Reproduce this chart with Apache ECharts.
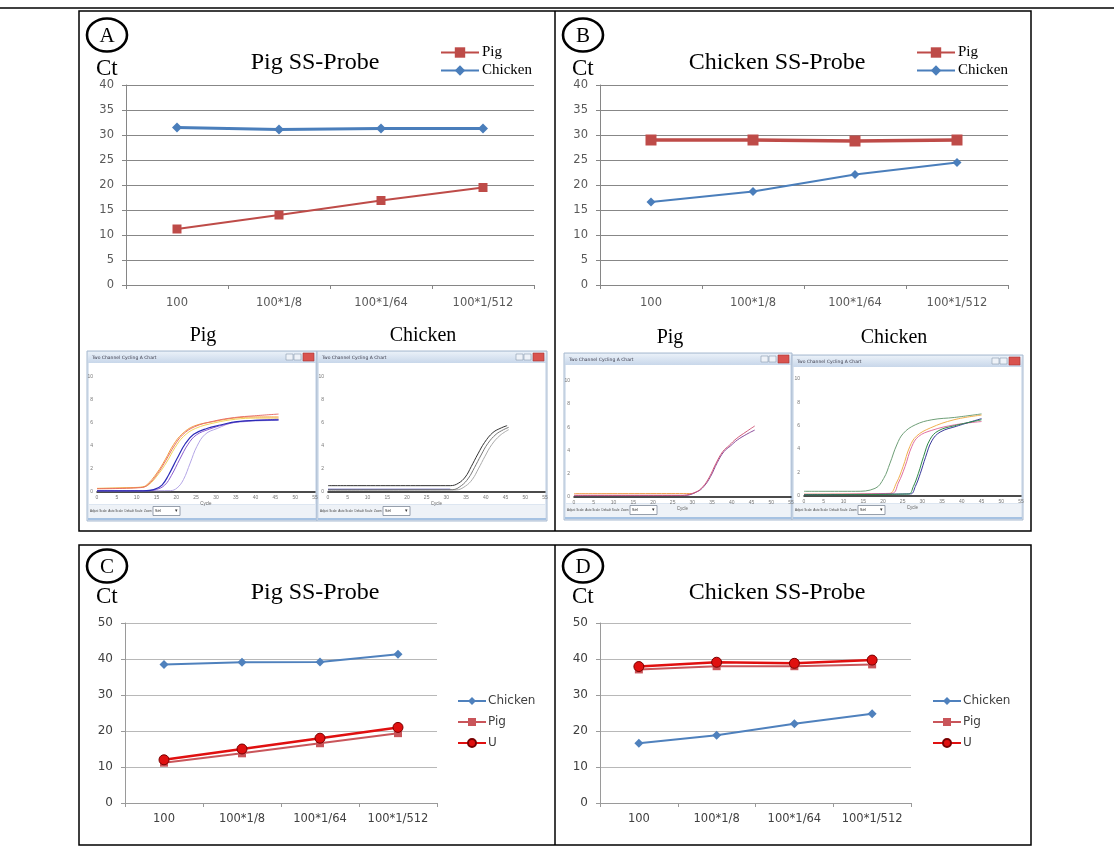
<!DOCTYPE html>
<html><head><meta charset="utf-8">
<script src="https://cdn.jsdelivr.net/npm/echarts@6/dist/echarts.min.js"></script>
<style>html,body{margin:0;padding:0;background:#fff}#c{width:1114px;height:858px}</style>
</head><body><div id="c"></div>
<script>
// ---------- data ----------
const cats = ['100', '100*1/8', '100*1/64', '100*1/512'];
const aPig = [11.2, 14.0, 16.9, 19.5];
const aChicken = [31.5, 31.1, 31.3, 31.3];
const bPig = [29.0, 29.0, 28.8, 29.0];
const bChicken = [16.6, 18.7, 22.1, 24.5];
const cChicken = [38.5, 39.1, 39.2, 41.3];
const cPig = [11.2, 13.8, 16.6, 19.4];
const cU = [12.0, 15.0, 18.0, 21.0];
const dChicken = [16.6, 18.8, 22.0, 24.8];
const dPig = [37.1, 38.0, 38.0, 38.5];
const dU = [37.9, 39.1, 38.8, 39.7];

// amplification curves: [cycle, fluorescence]
const aPigOrange = [[0,0.3],[6,0.35],[11,0.4],[12.6,0.63],[15.1,1.64],[17.2,2.8],[19.3,4.1],[21.4,5.0],[24.4,5.7],[29.4,6.1],[34.5,6.4],[39.5,6.5],[45.8,6.5]];
const aPigRed = [[0,0.28],[11,0.38],[12.8,0.6],[15.3,1.6],[17.4,2.75],[19.5,4.0],[21.6,4.95],[24.6,5.65],[29.6,6.15],[34.7,6.45],[39.7,6.6],[45.8,6.75]];
const aPigYellow = [[0,0.32],[11,0.42],[13,0.62],[15.5,1.55],[17.6,2.6],[19.7,3.85],[21.8,4.8],[24.8,5.5],[29.8,6.0],[34.9,6.3],[40,6.4],[45.8,6.4]];
const aPigBlue = [[0,0.1],[11.8,0.1],[14.3,0.2],[16.4,0.6],[18.1,1.5],[20.2,2.9],[22.3,4.2],[24.4,5.0],[27.7,5.5],[31.1,5.8],[35.3,6.1],[45.8,6.25]];
const aPigPurple = [[0,0.12],[12.5,0.12],[15,0.22],[17.1,0.6],[18.8,1.45],[20.9,2.85],[23,4.15],[25.1,4.95],[28.4,5.45],[31.8,5.8],[36,6.1],[45.8,6.3]];
const aPigLavender = [[0,0.1],[18.5,0.12],[20.2,0.35],[21.8,1.07],[23.5,2.5],[25.2,3.95],[27.3,5.0],[30.3,5.5],[34.5,6.0],[45.8,6.2]];
const aChkDark = [[0,0.55],[31,0.55],[33,0.75],[34.8,1.3],[36.3,2.2],[38,3.3],[39.7,4.3],[41.8,5.15],[43.9,5.55],[45.4,5.75]];
const aChkGray = [[0,0.2],[31.5,0.2],[33.8,0.55],[35.6,1.2],[37.1,2.1],[38.8,3.2],[40.5,4.2],[42.6,5.0],[44.5,5.4],[45.8,5.6]];
const aChkLight = [[0,0.15],[32.5,0.18],[34.8,0.5],[36.6,1.1],[38.1,2.0],[39.8,3.1],[41.5,4.1],[43.6,4.9],[45.8,5.4]];
const aChkBase = [[0,0.22],[31,0.22]];
const bPigBase = [[0,0.29],[30.5,0.3]];
const bPigPink = [[0,0.15],[27.5,0.15],[30.9,0.43],[32.6,0.86],[34.3,1.7],[36,2.9],[37.7,3.9],[39.4,4.45],[41.1,5.0],[43.6,5.6],[45.8,6.1]];
const bPigPurple = [[0,0.12],[28,0.13],[31.2,0.45],[32.9,0.9],[34.6,1.75],[36.3,2.95],[38,3.9],[39.7,4.4],[41.4,4.9],[43.8,5.4],[45.8,5.75]];
const bChkLight = [[0,0.4],[13,0.4],[18,0.65],[20.2,1.5],[21.8,2.8],[23.5,4.35],[25.2,5.35],[28.2,6.07],[32.4,6.5],[38.2,6.7],[45,7.0]];
const bChkOrange = [[0,0.15],[21.5,0.2],[23.4,1.1],[25.1,2.5],[26.8,4.2],[28.5,5.1],[32,5.8],[38,6.5],[45,6.9]];
const bChkPink = [[0,0.15],[22.3,0.23],[23.9,1.1],[25.6,2.5],[27.3,4.2],[29,5.07],[32.4,5.6],[38.2,6.07],[45,6.35]];
const bChkGreen = [[0,0.1],[26.5,0.17],[27.7,0.8],[29,1.94],[30.3,3.36],[31.9,4.8],[34,5.55],[38.2,6.0],[45,6.5]];
const bChkBlue = [[0,0.12],[27,0.18],[28.2,0.8],[29.5,1.94],[30.8,3.3],[32.4,4.7],[34.5,5.45],[38.7,5.95],[45,6.6]];

// ---------- styles ----------
const SERIF = '"Liberation Serif", "Times New Roman", serif';
const SANS = '"DejaVu Sans", sans-serif';
const RED = '#BE4B48', BLUE = '#4A7EBB', URED = '#E01010';

const chart = echarts.init(document.getElementById('c'), null, {renderer: 'canvas'});

function mainX(gi, light) {
  const c = light ? '#9a9a9a' : '#868686';
  return {type: 'category', gridIndex: gi, data: cats, boundaryGap: true,
    axisLine: {lineStyle: {color: c}}, axisTick: {show: true, length: 4, interval: 0, lineStyle: {color: c}},
    axisLabel: {interval: 0, color: light ? '#404040' : '#595959', fontFamily: SANS, fontSize: 11.5, margin: light ? 10 : 12}};
}
function mainY(gi, max, step, light) {
  const c = light ? '#9a9a9a' : '#868686';
  return {type: 'value', gridIndex: gi, min: 0, max: max, interval: step,
    axisLine: {show: true, lineStyle: {color: c}}, axisTick: {show: true, length: 4, lineStyle: {color: c}},
    splitLine: {lineStyle: {color: light ? '#b8b8b8' : '#878787'}},
    axisLabel: {color: light ? '#404040' : '#595959', fontFamily: SANS, fontSize: light ? 12 : 11.5, margin: 12}};
}
function miniX(gi) {
  return {type: 'value', gridIndex: gi, min: 0, max: 55, interval: 5,
    name: 'Cycle', nameLocation: 'middle', nameGap: 8, nameTextStyle: {fontSize: 4.5, color: '#666'},
    axisLine: {show: true, lineStyle: {color: '#111', width: 1.5}}, axisTick: {show: false},
    splitLine: {show: false}, axisLabel: {fontSize: 5, color: '#777', margin: 3}};
}
function miniY(gi) {
  return {type: 'value', gridIndex: gi, min: 0, max: 11, interval: 2,
    axisLine: {show: false}, axisTick: {show: false}, splitLine: {show: false},
    axisLabel: {fontSize: 5, color: '#777', margin: 4, showMaxLabel: false}};
}
function curve(gi, data, color, w) {
  return {type: 'line', xAxisIndex: gi, yAxisIndex: gi, data: data, smooth: 0.4, showSymbol: false,
    symbol: 'none', silent: true, lineStyle: {color: color, width: w || 1}, itemStyle: {color: color}};
}
function mainLine(gi, name, data, sym, size, color, w, extra) {
  return Object.assign({name: name, type: 'line', xAxisIndex: gi, yAxisIndex: gi, data: data,
    symbol: sym, symbolSize: size, color: color, lineStyle: {color: color, width: w},
    itemStyle: {color: color}}, extra || {});
}

const grids = [
  {left: 126, top: 85, width: 408, height: 200},
  {left: 600, top: 85, width: 408, height: 200},
  {left: 125, top: 623, width: 312, height: 180},
  {left: 600, top: 623, width: 311, height: 180},
  {left: 97, top: 365, width: 218, height: 127, show: true, borderColor: '#9a9a9a', backgroundColor: '#fff'},
  {left: 328, top: 365, width: 217, height: 127, show: true, borderColor: '#9a9a9a', backgroundColor: '#fff'},
  {left: 574, top: 369, width: 217, height: 128, show: true, borderColor: '#9a9a9a', backgroundColor: '#fff'},
  {left: 804, top: 367, width: 217, height: 129, show: true, borderColor: '#9a9a9a', backgroundColor: '#fff'}
];

const series = [
  mainLine(0, 'Pig A', aPig, 'rect', 9, RED, 2),
  mainLine(0, 'Chicken A', aChicken, 'diamond', 10, BLUE, 3),
  mainLine(1, 'Pig B', bPig, 'rect', 11, RED, 3.5),
  mainLine(1, 'Chicken B', bChicken, 'diamond', 9, BLUE, 2),
  mainLine(2, 'Chicken C', cChicken, 'diamond', 9, '#4F81BD', 2),
  mainLine(2, 'Pig C', cPig, 'rect', 8, '#C9555A', 2),
  mainLine(2, 'U C', cU, 'circle', 10, URED, 2.5, {itemStyle: {color: URED, borderColor: '#7a0000', borderWidth: 1}}),
  mainLine(3, 'Chicken D', dChicken, 'diamond', 9, '#4F81BD', 2),
  mainLine(3, 'Pig D', dPig, 'rect', 8, '#C9555A', 2),
  mainLine(3, 'U D', dU, 'circle', 10, URED, 2.5, {itemStyle: {color: URED, borderColor: '#7a0000', borderWidth: 1}}),
  curve(4, aPigYellow, '#f2d35a'), curve(4, aPigOrange, '#f39c3c'), curve(4, aPigRed, '#e8706a'),
  curve(4, aPigLavender, '#b4a6e6'), curve(4, aPigPurple, '#8a5cd0'), curve(4, aPigBlue, '#2c2cb8', 1.2),
  curve(5, aChkBase, '#3535b5', 1.2), curve(5, aChkLight, '#aaaaaa'), curve(5, aChkGray, '#777777'), curve(5, aChkDark, '#333333'),
  curve(6, bPigBase, '#f0a050'), curve(6, bPigPurple, '#8a4a9a'), curve(6, bPigPink, '#d05a7a'),
  curve(7, bChkLight, '#6f9f78'), curve(7, bChkOrange, '#f0b050'), curve(7, bChkPink, '#e070a0'),
  curve(7, bChkBlue, '#3a3a9a'), curve(7, bChkGreen, '#2f8a4a')
];

const stripName = n => n.replace(/ [A-D]$/, '');
function legendAB(left, p, c) {
  return {left: left, top: 40, orient: 'vertical', itemWidth: 38, itemHeight: 13, itemGap: 3,
    data: [p, c], formatter: stripName, selectedMode: false,
    textStyle: {fontFamily: SERIF, fontSize: 15, color: '#000', padding: [0, 0, 0, -2]}};
}
function legendCD(left, names) {
  return {left: left, top: 690, orient: 'vertical', itemWidth: 28, itemHeight: 10, itemGap: 9,
    data: names, formatter: stripName, selectedMode: false,
    textStyle: {fontFamily: SANS, fontSize: 12, color: '#404040', padding: [0, 0, 0, -3]}};
}

// ---------- decoration ----------
const g = [];
function rect(x, y, w, h, style) { g.push({type: 'rect', silent: true, shape: {x: x, y: y, width: w, height: h}, style: style}); }
function line(x1, y1, x2, y2, color, w) { g.push({type: 'line', silent: true, shape: {x1: x1, y1: y1, x2: x2, y2: y2}, style: {stroke: color, lineWidth: w}}); }
function text(x, y, t, size, opts) {
  g.push({type: 'text', silent: true, x: x, y: y, style: Object.assign({text: t, fontSize: size, fontFamily: SERIF,
    fill: '#000', textAlign: 'left', textVerticalAlign: 'middle', verticalAlign: 'middle'}, opts || {})});
}
function badge(cx, cy, letter) {
  g.push({type: 'ellipse', silent: true, shape: {cx: cx, cy: cy, rx: 20, ry: 16.5}, style: {fill: 'none', stroke: '#000', lineWidth: 2.6}});
  text(cx, cy + 1, letter, 21, {textAlign: 'center'});
}
function windowChrome(x, y, w, h) {
  rect(x, y, w, h, {fill: '#dde6f1', stroke: '#a9bbd1', lineWidth: 1});
  g.push({type: 'rect', silent: true, shape: {x: x + 1, y: y + 1, width: w - 2, height: 11},
    style: {fill: new echarts.graphic.LinearGradient(0, 0, 0, 1, [{offset: 0, color: '#e9f0f8'}, {offset: 1, color: '#c8d7ea'}])}});
  text(x + 5, y + 6.5, 'Two Channel Cycling A Chart', 4.5, {fontFamily: SANS, fill: '#3a3a4a'});
  rect(x + w - 31, y + 3, 7, 6, {fill: '#eef2f8', stroke: '#8a9ab0', lineWidth: 0.6});
  rect(x + w - 23, y + 3, 7, 6, {fill: '#eef2f8', stroke: '#8a9ab0', lineWidth: 0.6});
  rect(x + w - 14, y + 2, 11, 8, {fill: '#d9534f', stroke: '#a33', lineWidth: 0.6});
  rect(x + 2, y + 12, w - 4, h - 29, {fill: '#ffffff'});
  rect(x + 2, y + h - 16, w - 4, 13, {fill: '#eef2f7'});
  text(x + 3, y + h - 9.5, 'Adjust Scale  Auto Scale  Default Scale  Zoom', 3, {fontFamily: '"Liberation Sans", sans-serif', fill: '#444'});
  rect(x + 66, y + h - 14.5, 27, 9, {fill: '#fff', stroke: '#6e7a8a', lineWidth: 0.7});
  text(x + 68, y + h - 10, 'Sel', 4, {fontFamily: SANS, fill: '#333'});
  text(x + 88, y + h - 10, '\u25BE', 5, {fontFamily: SANS, fill: '#333'});
  line(x + 1, y + h - 2, x + w - 1, y + h - 2, '#a6c2e2', 2);
}

// frames
line(0, 8, 1114, 8, '#000', 1.5);
rect(79, 11, 952, 520, {fill: 'none', stroke: '#000', lineWidth: 1.5});
line(555, 11, 555, 531, '#000', 1.5);
rect(79, 545, 952, 300, {fill: 'none', stroke: '#000', lineWidth: 1.5});
line(555, 545, 555, 845, '#000', 1.5);

// screenshot windows
windowChrome(87, 351, 230, 170);
windowChrome(317, 351, 230, 170);
windowChrome(564, 353, 228, 167);
windowChrome(792, 355, 231, 165);

// badges and labels
badge(107, 35, 'A'); badge(583, 35, 'B'); badge(107, 566, 'C'); badge(583, 566, 'D');
text(96, 69, 'Ct', 23); text(572, 69, 'Ct', 23); text(96, 597, 'Ct', 23); text(572, 597, 'Ct', 23);
text(203, 336, 'Pig', 20, {textAlign: 'center'});
text(423, 336, 'Chicken', 20, {textAlign: 'center'});
text(670, 338, 'Pig', 20, {textAlign: 'center'});
text(894, 338, 'Chicken', 20, {textAlign: 'center'});

const titleStyle = {fontFamily: SERIF, fontSize: 24, fontWeight: 'normal', color: '#000'};
const option = {
  animation: false,
  backgroundColor: '#fff',
  title: [
    {text: 'Pig SS-Probe', left: 315, top: 51, textAlign: 'center', textStyle: titleStyle, padding: 0},
    {text: 'Chicken SS-Probe', left: 777, top: 51, textAlign: 'center', textStyle: titleStyle, padding: 0},
    {text: 'Pig SS-Probe', left: 315, top: 581, textAlign: 'center', textStyle: titleStyle, padding: 0},
    {text: 'Chicken SS-Probe', left: 777, top: 581, textAlign: 'center', textStyle: titleStyle, padding: 0}
  ],
  legend: [
    legendAB(435, 'Pig A', 'Chicken A'),
    legendAB(911, 'Pig B', 'Chicken B'),
    legendCD(452, ['Chicken C', 'Pig C', 'U C']),
    legendCD(927, ['Chicken D', 'Pig D', 'U D'])
  ],
  grid: grids,
  xAxis: [mainX(0), mainX(1), mainX(2, true), mainX(3, true), miniX(4), miniX(5), miniX(6), miniX(7)],
  yAxis: [mainY(0, 40, 5), mainY(1, 40, 5), mainY(2, 50, 10, true), mainY(3, 50, 10, true), miniY(4), miniY(5), miniY(6), miniY(7)],
  series: series,
  graphic: {elements: g}
};
chart.setOption(option);
</script></body></html>
